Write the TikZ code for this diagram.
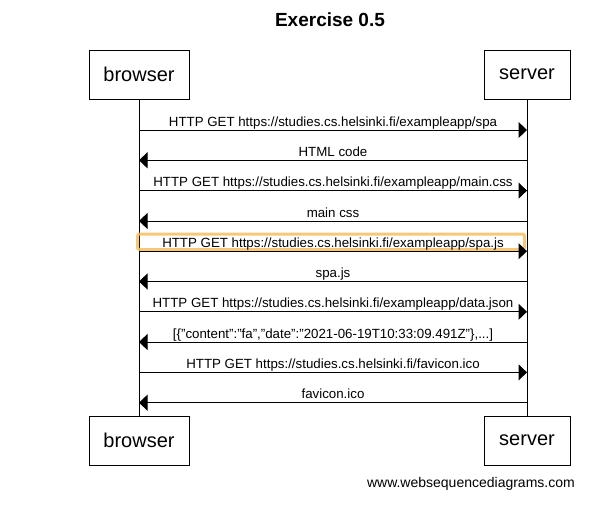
\documentclass[tikz,border=0pt]{standalone}
\usepackage{fontspec}
\setmainfont{Liberation Sans}
\usetikzlibrary{arrows.meta}
\definecolor{hl}{RGB}{246,192,96}
\begin{document}
\begin{tikzpicture}[x=1pt,y=-1pt,
  actor/.style={draw=black,line width=1pt,inner sep=0pt,font=\fontsize{20}{24}\selectfont,minimum height=49pt},
  msg/.style={line width=1pt,-{Triangle[length=8.5pt,width=16pt]}},
  lbl/.style={anchor=base,inner sep=0pt,font=\fontsize{13.3}{15}\selectfont},
  life/.style={line width=1pt}]
\useasboundingbox (0,0) rectangle (602,517);
\fill[white] (0,0) rectangle (602,517);
\node[anchor=base,inner sep=0pt,font=\fontsize{19}{22}\selectfont\bfseries] (title) at (330,26.7) {Exercise 0.5};
\node[actor,minimum width=100pt] (bt) at (139,74.5) {browser};
\node[actor,minimum width=86pt] (st) at (527,74.5) {server};
\node[actor,minimum width=100pt] (bb) at (139,440.5) {browser};
\node[actor,minimum width=86pt] (sb) at (527,440.5) {server};
\draw[life] (bt.south) -- (bb.north);
\draw[life] (st.south) -- (sb.north);
% message coordinates
\foreach \i/\y in {1/130,2/160.3,3/190.6,4/221,5/251.2,6/281.5,7/311.8,8/342,9/372.4,10/402.7}{
  \coordinate (b\i) at (139,\y);
  \coordinate (s\i) at (527,\y);
}
\draw[hl,line width=3pt,rounded corners=2pt,opacity=0.85] (137.5,234) rectangle (524.5,249.5);
\draw[msg] (b1) -- (s1) node[lbl,pos=0.5,yshift=4pt] (m1) {HTTP GET https://studies.cs.helsinki.fi/exampleapp/spa};
\draw[msg] (s2) -- (b2) node[lbl,pos=0.5,yshift=4pt] (m2) {HTML code};
\draw[msg] (b3) -- (s3) node[lbl,pos=0.5,yshift=4pt] (m3) {HTTP GET https://studies.cs.helsinki.fi/exampleapp/main.css};
\draw[msg] (s4) -- (b4) node[lbl,pos=0.5,yshift=4pt] (m4) {main css};
\draw[msg] (b5) -- (s5) node[lbl,pos=0.5,yshift=4pt] (m5) {HTTP GET https://studies.cs.helsinki.fi/exampleapp/spa.js};
\draw[msg] (s6) -- (b6) node[lbl,pos=0.5,yshift=4pt] (m6) {spa.js};
\draw[msg] (b7) -- (s7) node[lbl,pos=0.5,yshift=4pt] (m7) {HTTP GET https://studies.cs.helsinki.fi/exampleapp/data.json};
\draw[msg] (s8) -- (b8) node[lbl,pos=0.5,yshift=4pt] (m8) {[\{"content":"fa","date":"2021-06-19T10:33:09.491Z"\},...]};
\draw[msg] (b9) -- (s9) node[lbl,pos=0.5,yshift=4pt] (m9) {HTTP GET https://studies.cs.helsinki.fi/favicon.ico};
\draw[msg] (s10) -- (b10) node[lbl,pos=0.5,yshift=4pt] (m10) {favicon.ico};
\node[anchor=base east,inner sep=0pt,font=\fontsize{14}{16}\selectfont] (wsd) at (575,487) {www.websequencediagrams.com};
\end{tikzpicture}
\end{document}
